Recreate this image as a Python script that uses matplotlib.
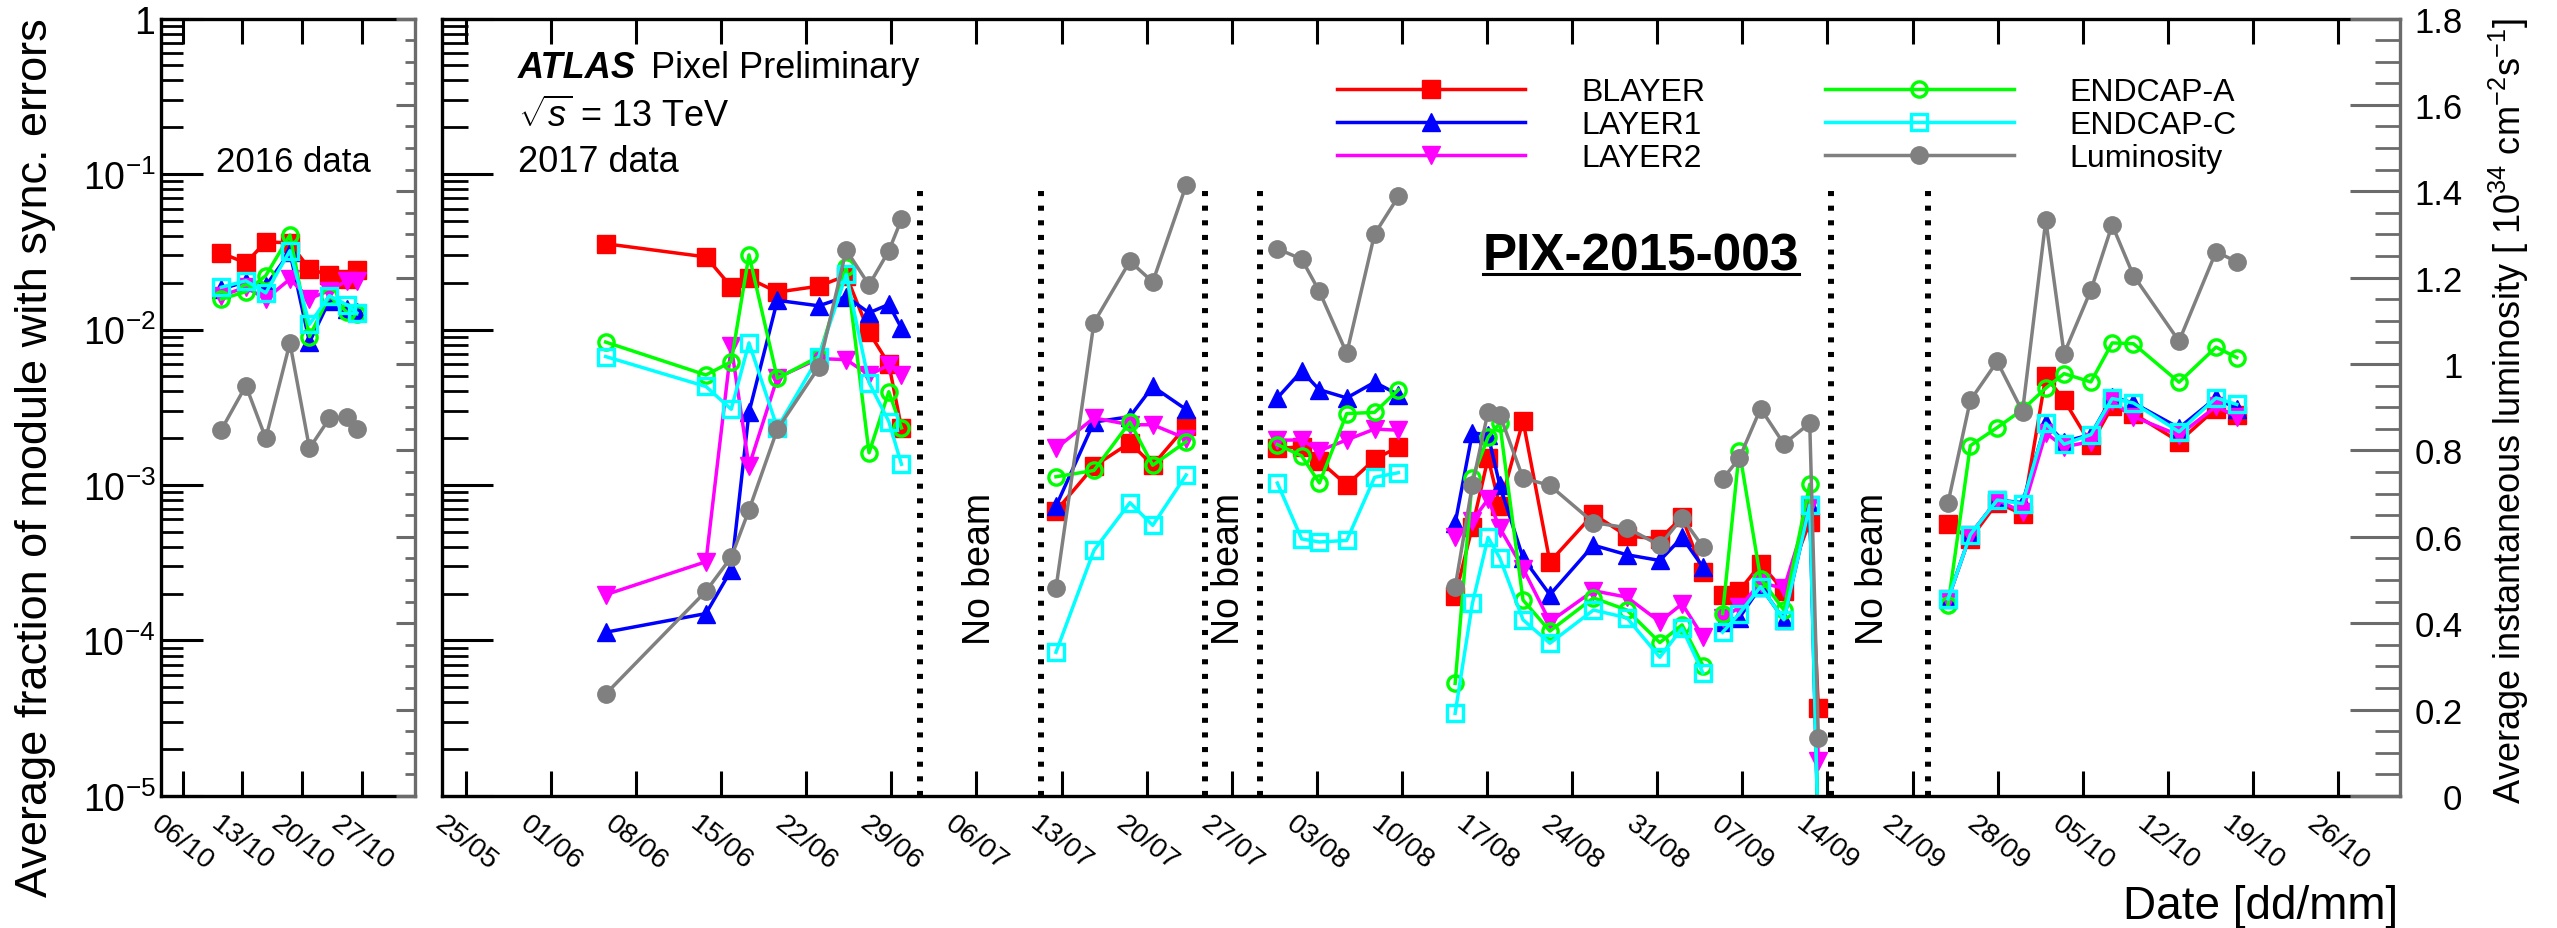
import numpy as np
import pandas as pd
import matplotlib
matplotlib.use('Agg')
import matplotlib.pyplot as plt
import matplotlib.dates as mdates
import matplotlib.transforms as mtransforms
from matplotlib.lines import Line2D
from matplotlib.ticker import LogLocator, NullFormatter, FuncFormatter, MultipleLocator

plt.rcParams['font.family'] = ['Liberation Sans', 'DejaVu Sans']
plt.rcParams['mathtext.fontset'] = 'custom'
plt.rcParams['mathtext.rm'] = 'Liberation Sans'
plt.rcParams['mathtext.it'] = 'Liberation Sans:italic'
plt.rcParams['mathtext.bf'] = 'Liberation Sans:bold'

# ---- 2016 data (left pad)
dates_2016 = ['2016-10-10 13:00', '2016-10-13 10:00', '2016-10-15 18:00', '2016-10-18 14:00',
              '2016-10-20 21:00', '2016-10-23 05:00', '2016-10-25 07:00', '2016-10-26 10:00']
blayer_2016 = [0.031, 0.0268, 0.0367, 0.036, 0.0245, 0.0224, 0.0211, 0.0243]
layer1_2016 = [0.0182, 0.0203, 0.0191, 0.0314, 0.0083, 0.0153, 0.0136, 0.0129]
layer2_2016 = [0.0165, 0.0187, 0.0157, 0.0211, 0.0158, 0.0178, 0.0206, 0.0206]
endcapA_2016 = [0.0157, 0.0175, 0.0222, 0.0405, 0.0090, 0.0165, 0.0129, 0.0126]
endcapC_2016 = [0.0187, 0.0206, 0.0172, 0.0321, 0.0108, 0.0165, 0.0144, 0.0128]
lumi_2016 = [0.848, 0.95, 0.828, 1.049, 0.805, 0.874, 0.877, 0.85]

# ---- 2017 data (main pad), block = continuous running period
dates_2017 = ['2017-06-05 12:00', '2017-06-13 18:00', '2017-06-15 20:00', '2017-06-17 07:00', '2017-06-19 15:00',
              '2017-06-23 01:00', '2017-06-25 07:00', '2017-06-27 04:00', '2017-06-28 19:00', '2017-06-29 20:00',
              '2017-07-12 13:00', '2017-07-15 16:00', '2017-07-18 15:00', '2017-07-20 12:00', '2017-07-23 06:00',
              '2017-07-30 18:00', '2017-08-01 18:00', '2017-08-03 05:00', '2017-08-05 11:00', '2017-08-07 18:00',
              '2017-08-09 17:00',
              '2017-08-14 09:00', '2017-08-15 19:00', '2017-08-17 02:00', '2017-08-18 01:00', '2017-08-19 23:00',
              '2017-08-22 04:00', '2017-08-25 18:00', '2017-08-28 12:00', '2017-08-31 05:00', '2017-09-02 01:00',
              '2017-09-03 18:00',
              '2017-09-05 09:00', '2017-09-06 18:00', '2017-09-08 12:00', '2017-09-10 10:00', '2017-09-12 13:00',
              '2017-09-13 06:00',
              '2017-09-23 22:00', '2017-09-25 18:00', '2017-09-27 23:00', '2017-09-30 01:00', '2017-10-01 23:00',
              '2017-10-03 11:00', '2017-10-05 16:00', '2017-10-07 10:00', '2017-10-09 04:00', '2017-10-12 22:00',
              '2017-10-15 23:00', '2017-10-17 16:00']
block_2017 = [1, 1, 1, 1, 1, 1, 1, 1, 1, 1,
              2, 2, 2, 2, 2,
              3, 3, 3, 3, 3, 3,
              4, 4, 4, 4, 4, 4, 4, 4, 4, 4, 4,
              5, 5, 5, 5, 5, 5,
              6, 6, 6, 6, 6, 6, 6, 6, 6, 6, 6, 6]
blayer_2017 = [0.0356, 0.0293, 0.0188, 0.0213, 0.0174, 0.019, 0.0222, 0.0096, 0.0060, 0.00233,
               6.8e-4, 1.32e-3, 1.87e-3, 1.34e-3, 2.39e-3,
               1.72e-3, 1.76e-3, 1.43e-3, 1.0e-3, 1.46e-3, 1.76e-3,
               1.92e-4, 5.4e-4, 1.49e-3, 7.3e-4, 2.59e-3, 3.2e-4, 6.5e-4, 4.7e-4, 4.5e-4, 6.2e-4, 2.75e-4,
               1.96e-4, 2.09e-4, 3.1e-4, 2.09e-4, 5.8e-4, 3.7e-5,
               5.6e-4, 4.5e-4, 7.7e-4, 6.5e-4, 5.0e-3, 3.52e-3, 1.82e-3, 3.2e-3, 2.88e-3, 1.9e-3, 3.1e-3, 2.8e-3]
layer1_2017 = [1.13e-4, 1.49e-4, 2.84e-4, 2.93e-3, 0.0154, 0.0142, 0.0163, 0.0128, 0.0145, 0.0102,
               7.3e-4, 2.54e-3, 2.75e-3, 4.3e-3, 3.06e-3,
               3.63e-3, 5.4e-3, 4.1e-3, 3.63e-3, 4.58e-3, 3.81e-3,
               5.66e-4, 2.17e-3, 2.09e-3, 1.0e-3, 3.4e-4, 1.97e-4, 4.1e-4, 3.56e-4, 3.27e-4, 4.6e-4, 2.97e-4,
               1.32e-4, 1.4e-4, 2.22e-4, 1.36e-4, 7.4e-4, 5e-6,
               1.85e-4, 4.8e-4, 8.0e-4, 7.7e-4, 2.5e-3, 1.9e-3, 2.11e-3, 3.67e-3, 3.37e-3, 2.33e-3, 3.63e-3, 3.1e-3]
layer2_2017 = [1.97e-4, 3.21e-4, 7.8e-3, 1.32e-3, 4.9e-3, 6.5e-3, 6.4e-3, 5.1e-3, 5.9e-3, 5.1e-3,
               1.72e-3, 2.7e-3, 2.44e-3, 2.44e-3, 1.99e-3,
               1.94e-3, 1.95e-3, 1.66e-3, 1.95e-3, 2.29e-3, 2.25e-3,
               4.6e-4, 5.9e-4, 8.1e-4, 5.3e-4, 2.9e-4, 1.32e-4, 2.09e-4, 1.9e-4, 1.32e-4, 1.72e-4, 1.06e-4,
               1.4e-4, 1.63e-4, 2.36e-4, 2.16e-4, 7.4e-4, 1.69e-5,
               1.85e-4, 4.8e-4, 8.0e-4, 6.7e-4, 2.16e-3, 1.76e-3, 1.9e-3, 3.46e-3, 2.75e-3, 2.09e-3, 3.2e-3, 2.75e-3]
endcapA_2017 = [8.3e-3, 5.1e-3, 6.2e-3, 0.0302, 4.85e-3, 6.7e-3, 0.0251, 1.61e-3, 3.98e-3, 2.33e-3,
                1.13e-3, 1.24e-3, 2.54e-3, 1.34e-3, 1.9e-3,
                1.82e-3, 1.54e-3, 1.03e-3, 2.88e-3, 2.93e-3, 4.1e-3,
                5.3e-5, 1.11e-3, 2.03e-3, 2.5e-3, 1.82e-4, 1.15e-4, 1.88e-4, 1.57e-4, 9.7e-5, 1.26e-4, 6.9e-5,
                1.49e-4, 1.66e-3, 2.5e-4, 1.57e-4, 1.01e-3, 5e-6,
                1.69e-4, 1.79e-3, 2.34e-3, 3.05e-3, 4.2e-3, 5.2e-3, 4.6e-3, 8.2e-3, 8.1e-3, 4.58e-3, 7.7e-3, 6.6e-3]
endcapC_2017 = [6.7e-3, 4.3e-3, 3.07e-3, 8.2e-3, 2.33e-3, 6.7e-3, 0.0226, 4.56e-3, 2.56e-3, 1.36e-3,
                8.4e-5, 3.8e-4, 7.7e-4, 5.5e-4, 1.16e-3,
                1.03e-3, 4.5e-4, 4.3e-4, 4.4e-4, 1.12e-3, 1.2e-3,
                3.4e-5, 1.73e-4, 4.6e-4, 3.4e-4, 1.36e-4, 9.6e-5, 1.57e-4, 1.4e-4, 7.8e-5, 1.2e-4, 6.2e-5,
                1.13e-4, 1.49e-4, 2.22e-4, 1.36e-4, 7.4e-4, 5e-6,
                1.85e-4, 4.8e-4, 8.0e-4, 7.6e-4, 2.5e-3, 1.83e-3, 2.11e-3, 3.6e-3, 3.37e-3, 2.2e-3, 3.63e-3, 3.3e-3]
lumi_2017 = [0.236, 0.474, 0.553, 0.662, 0.849, 0.993, 1.264, 1.183, 1.262, 1.335,
             0.481, 1.096, 1.238, 1.19, 1.414,
             1.267, 1.243, 1.168, 1.025, 1.301, 1.388,
             0.483, 0.72, 0.890, 0.883, 0.736, 0.719, 0.633, 0.621, 0.58, 0.644, 0.577,
             0.734, 0.782, 0.897, 0.815, 0.863, 0.135,
             0.679, 0.916, 1.006, 0.890, 1.333, 1.024, 1.171, 1.322, 1.205, 1.053, 1.26, 1.237]

nobeam_lines = ['2017-07-01 08:00', '2017-07-11 08:00', '2017-07-24 20:00',
                '2017-07-29 07:00', '2017-09-14 07:00', '2017-09-22 07:00']
nobeam_text = ['2017-07-06 07:00', '2017-07-26 19:00', '2017-09-17 17:00']

labels = ['BLAYER', 'LAYER1', 'LAYER2', 'ENDCAP-A', 'ENDCAP-C']
styles = {
    'BLAYER': dict(color='#ff0000', marker='s', ms=12.5),
    'LAYER1': dict(color='#0000ff', marker='^', ms=13),
    'LAYER2': dict(color='#ff00ff', marker='v', ms=13),
    'ENDCAP-A': dict(color='#00ff00', marker='o', ms=11, mfc='none', mew=2.4),
    'ENDCAP-C': dict(color='#00ffff', marker='s', ms=11, mfc='none', mew=2.4),
}
lumi_style = dict(color='#808080', marker='o', ms=12.5)
axis_gray = '#6b6b6b'
LW = 2.5

d16 = pd.to_datetime(dates_2016)
d17 = pd.to_datetime(dates_2017)
blk = np.array(block_2017)
vals16 = [blayer_2016, layer1_2016, layer2_2016, endcapA_2016, endcapC_2016]
vals17 = [blayer_2017, layer1_2017, layer2_2017, endcapA_2017, endcapC_2017]

fig = plt.figure(figsize=(25.57, 9.29), dpi=100)
ax0 = fig.add_axes([0.06297, 0.1421, 0.0993, 0.8369])
ax = fig.add_axes([0.17286, 0.1421, 0.7657, 0.8369])
ax0r = ax0.twinx()
axr = ax.twinx()

def log_fmt(v, pos):
    if np.isclose(v, 1):
        return '1'
    return r'$10^{%d}$' % int(round(np.log10(v)))

for a, big in ((ax0, False), (ax, True)):
    a.set_yscale('log')
    a.set_ylim(1e-5, 1)
    a.yaxis.set_major_locator(LogLocator(base=10, numticks=10))
    a.yaxis.set_minor_locator(LogLocator(base=10, subs=np.arange(2, 10), numticks=20))
    a.yaxis.set_minor_formatter(NullFormatter())
    a.yaxis.set_major_formatter(FuncFormatter(log_fmt))
    a.xaxis.set_major_locator(mdates.WeekdayLocator(byweekday=mdates.TH))
    a.xaxis.set_major_formatter(mdates.DateFormatter('%d/%m'))
    a.tick_params(axis='y', which='major', direction='in', length=37 if big else 30, width=2.2,
                  labelsize=27, pad=4, labelleft=not big)
    a.tick_params(axis='y', which='minor', direction='in', length=19 if big else 16, width=2)
    a.tick_params(axis='x', which='major', direction='in', length=18, width=2.2, top=True,
                  labelsize=20.5, pad=10, labelrotation=-38)
    a.tick_params(axis='x', which='minor', length=0)
    for s in ('left', 'top', 'bottom'):
        a.spines[s].set_linewidth(2.4)
    a.spines['right'].set_visible(False)

for a, big in ((ax0r, False), (axr, True)):
    a.set_ylim(0, 1.8)
    a.yaxis.set_major_locator(MultipleLocator(0.2))
    a.yaxis.set_minor_locator(MultipleLocator(0.05))
    a.yaxis.set_major_formatter(FuncFormatter(lambda v, p: '%g' % round(v, 2)))
    a.tick_params(axis='y', which='major', direction='in', length=36 if big else 14, width=2.2,
                  color=axis_gray, labelcolor='black', labelsize=25, pad=45, labelright=big)
    a.tick_params(axis='y', which='minor', direction='in', length=18 if big else 7, width=2,
                  color=axis_gray)
    for s in ('left', 'top', 'bottom'):
        a.spines[s].set_visible(False)
    a.spines['right'].set_color(axis_gray)
    a.spines['right'].set_linewidth(2.4)
for t in axr.get_yticklabels():
    t.set_ha('right')

# 2016 pad
for lab, v in zip(labels, vals16):
    ax0.plot(d16, v, lw=LW, **styles[lab])
ax0r.plot(d16, lumi_2016, lw=LW, **lumi_style)
ax0.set_xlim(pd.Timestamp('2016-10-03 11:00'), pd.Timestamp('2016-11-02 06:00'))
ax0.text(0.2165, 0.804, '2016 data', transform=ax0.transAxes, fontsize=25, va='baseline')

# 2017 pad
handles = []
for lab, v in zip(labels, vals17):
    v = np.array(v)
    for i, b in enumerate(np.unique(blk)):
        m = blk == b
        ln, = ax.plot(d17[m], v[m], lw=LW, **styles[lab])
        if i == 0:
            handles.append(ln)
lumi = np.array(lumi_2017)
for i, b in enumerate(np.unique(blk)):
    m = blk == b
    ln, = axr.plot(d17[m], lumi[m], lw=LW, **lumi_style)
    if i == 0:
        handles.append(ln)
ax.set_xlim(pd.Timestamp('2017-05-23 01:00'), pd.Timestamp('2017-10-31 02:00'))

for d in nobeam_lines:
    ax.axvline(pd.Timestamp(d), ymin=0, ymax=0.785, color='black', lw=4.3, ls=(0, (0.85, 1.6)))
trans = mtransforms.blended_transform_factory(ax.transData, ax.transAxes)
for d in nobeam_text:
    ax.text(mdates.date2num(pd.Timestamp(d)), 0.2936, 'No beam', transform=trans, rotation=90,
            ha='center', va='center', fontsize=27)

ax.text(0.0386, 0.9248, 'ATLAS', transform=ax.transAxes, fontsize=26, fontweight='bold',
        fontstyle='italic', va='baseline')
ax.text(0.107, 0.9248, 'Pixel Preliminary', transform=ax.transAxes, fontsize=26, va='baseline')
ax.text(0.0386, 0.8617, r'$\sqrt{s}$ = 13 TeV', transform=ax.transAxes, fontsize=26, va='baseline')
ax.text(0.0386, 0.8039, '2017 data', transform=ax.transAxes, fontsize=26, va='baseline')
pix = ax.text(0.6124, 0.6778, 'PIX-2015-003', transform=ax.transAxes, fontsize=37,
              fontweight='bold', ha='center', va='baseline')

leg = axr.legend(handles, labels + ['Luminosity'], ncol=2, loc='upper left',
                 bbox_to_anchor=(0.4571, 0.925), frameon=False, fontsize=23,
                 handlelength=5.9, handletextpad=1.75, columnspacing=3.75,
                 labelspacing=0.1, borderpad=0, borderaxespad=0, numpoints=1)

fig.text(36 / 2557, 1 - 18 / 929, 'Average fraction of module with sync. errors', rotation=90,
         ha='center', va='top', fontsize=32.5)
fig.text(2509 / 2557, 1 - 18 / 929,
         r'Average instantaneous luminosity [ 10$^{34}$ cm$^{-2}$s$^{-1}$]', rotation=90,
         ha='center', va='top', fontsize=26)
fig.text(2398 / 2557, 1 - 885 / 929, 'Date [dd/mm]', ha='right', va='top', fontsize=33)

# underline for the reference tag
fig.canvas.draw()
bb = pix.get_window_extent(fig.canvas.get_renderer())
yb = ax.transAxes.transform((0.6124, 0.6778))[1] - 5
fig.add_artist(Line2D([bb.x0, bb.x1], [yb, yb], transform=mtransforms.IdentityTransform(),
                      color='black', lw=2.2))

fig.savefig('out.png', dpi=100)
